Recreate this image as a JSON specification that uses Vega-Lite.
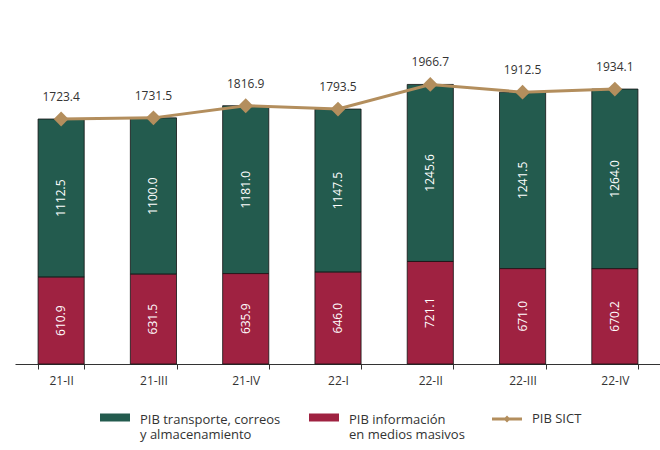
{
  "$schema": "https://vega.github.io/schema/vega-lite/v6.json",
  "width": 646,
  "height": 344,
  "autosize": "none",
  "padding": {"left": 15, "top": 20, "right": 0, "bottom": 86},
  "background": "white",
  "config": {"view": {"stroke": null}, "font": "Open Sans"},
  "data": {
    "values": [
      {"trimestre": "21-II", "transporte": 1112.5, "informacion": 610.9, "total": 1723.4},
      {"trimestre": "21-III", "transporte": 1100.0, "informacion": 631.5, "total": 1731.5},
      {"trimestre": "21-IV", "transporte": 1181.0, "informacion": 635.9, "total": 1816.9},
      {"trimestre": "22-I", "transporte": 1147.5, "informacion": 646.0, "total": 1793.5},
      {"trimestre": "22-II", "transporte": 1245.6, "informacion": 721.1, "total": 1966.7},
      {"trimestre": "22-III", "transporte": 1241.5, "informacion": 671.0, "total": 1912.5},
      {"trimestre": "22-IV", "transporte": 1264.0, "informacion": 670.2, "total": 1934.1}
    ]
  },
  "encoding": {
    "x": {
      "field": "trimestre",
      "type": "nominal",
      "sort": null,
      "title": null,
      "scale": {"paddingInner": 0.5, "paddingOuter": 0.25},
      "axis": {
        "labelAngle": 0,
        "tickBand": "extent",
        "tickSize": 5,
        "tickColor": "#333",
        "domainColor": "#333",
        "labelColor": "#333",
        "labelFontSize": 12,
        "labelPadding": 6,
        "grid": false
      }
    }
  },
  "layer": [
    {
      "transform": [{"fold": ["transporte", "informacion"], "as": ["serie", "valor"]}],
      "mark": {"type": "bar", "stroke": "#111", "strokeWidth": 0.8},
      "encoding": {
        "y": {
          "field": "valor",
          "type": "quantitative",
          "stack": "zero",
          "scale": {"domain": [0, 2420], "nice": false},
          "axis": null
        },
        "fill": {
          "field": "serie",
          "type": "nominal",
          "scale": {"domain": ["transporte", "informacion"], "range": ["#235B4E", "#9F2241"]},
          "legend": {
            "orient": "none",
            "legendX": 90,
            "legendY": 390,
            "direction": "horizontal",
            "title": null,
            "padding": 0,
            "symbolType": "M-1.5,-0.65H1.5V0.15H-1.5Z",
            "symbolSize": 400,
            "symbolStrokeWidth": 0,
            "labelFontSize": 13,
            "labelColor": "#333",
            "labelOffset": 15,
            "labelLimit": 300,
            "labelLineHeight": 17,
            "columnPadding": 28,
            "labelExpr": "datum.label == 'transporte' ? ['PIB transporte, correos', 'y almacenamiento'] : ['PIB  información', 'en medios masivos']"
          }
        },
        "order": {"field": "serie", "sort": "ascending"}
      }
    },
    {
      "transform": [
        {"fold": ["transporte", "informacion"], "as": ["serie", "valor"]},
        {"stack": "valor", "groupby": ["trimestre"], "sort": [{"field": "serie", "order": "ascending"}], "as": ["y0", "y1"]},
        {"calculate": "(datum.y0 + datum.y1) / 2", "as": "ymid"}
      ],
      "mark": {"type": "text", "angle": 270, "color": "white", "fontSize": 12, "align": "center", "baseline": "middle"},
      "encoding": {
        "y": {"field": "ymid", "type": "quantitative"},
        "text": {"field": "valor", "type": "quantitative", "format": ".1f"}
      }
    },
    {
      "mark": {"type": "line", "strokeWidth": 3},
      "encoding": {
        "y": {"field": "total", "type": "quantitative"},
        "stroke": {
          "datum": "PIB SICT",
          "type": "nominal",
          "scale": {"range": ["#B38E5D"]},
          "legend": {
            "orient": "none",
            "legendX": 482,
            "legendY": 389,
            "title": null,
            "padding": 0,
            "symbolType": "M-1.5,-0.15H1.5V0.15H-1.5Z M0,-0.35L0.35,0L0,0.35L-0.35,0Z",
            "symbolSize": 400,
            "symbolStrokeWidth": 0,
            "symbolFillColor": "#B38E5D",
            "labelFontSize": 13,
            "labelColor": "#333",
            "labelOffset": 15
          }
        }
      }
    },
    {
      "mark": {"type": "point", "shape": "diamond", "filled": true, "size": 220, "color": "#B38E5D", "opacity": 1},
      "encoding": {"y": {"field": "total", "type": "quantitative"}}
    },
    {
      "mark": {"type": "text", "dy": -22, "fontSize": 12, "color": "#333"},
      "encoding": {
        "y": {"field": "total", "type": "quantitative"},
        "text": {"field": "total", "type": "quantitative", "format": ".1f"}
      }
    }
  ]
}
